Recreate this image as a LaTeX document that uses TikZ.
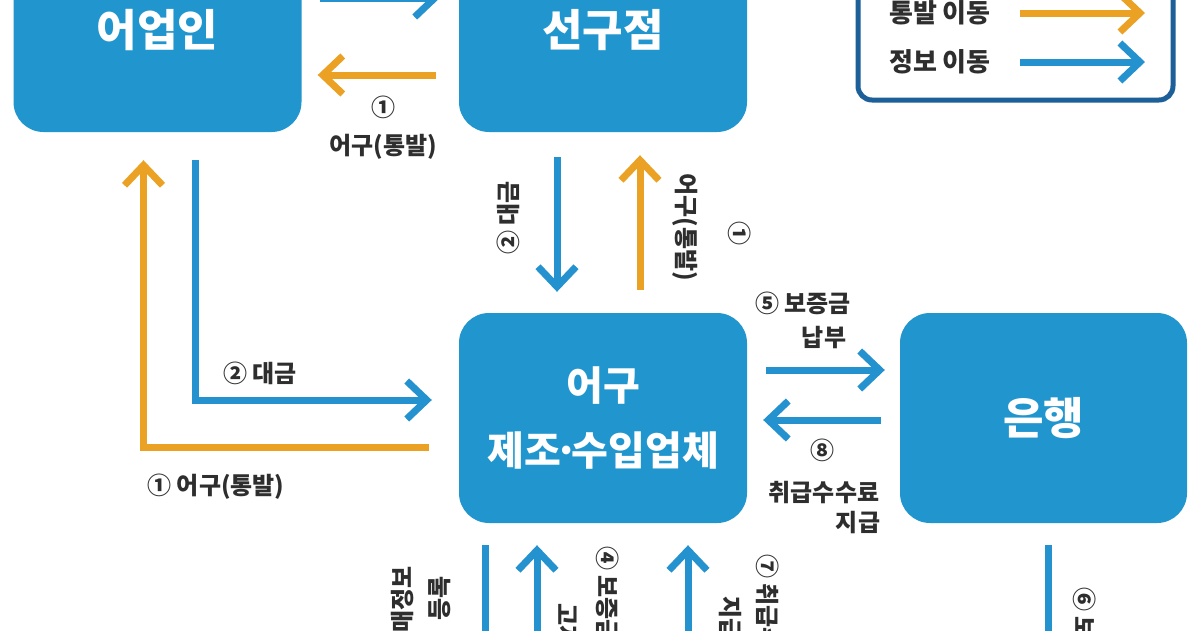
\documentclass[tikz,border=0pt]{standalone}
\usepackage{fontspec}
\setmainfont{Noto Sans CJK KR}
\usetikzlibrary{arrows.meta,calc}
\definecolor{boxblue}{HTML}{2196CE}
\definecolor{infoblue}{HTML}{2592D0}
\definecolor{gearorange}{HTML}{EBA224}
\definecolor{legendblue}{HTML}{1D5F98}
\definecolor{lbltext}{HTML}{2E2E2E}
\tikzset{
  box/.style={fill=boxblue, rounded corners=30pt, text=white,
    font=\bfseries\fontsize{44}{50}\selectfont, align=center, inner sep=0pt,
    minimum width=288pt, minimum height=204pt},
  info/.style={draw=infoblue, line width=7pt, -{Straight Barb[length=20pt,width=38pt]}},
  infoline/.style={draw=infoblue, line width=7pt},
  gear/.style={draw=gearorange, line width=7pt, -{Straight Barb[length=20pt,width=38pt]}},
  lbl/.style={text=lbltext, font=\bfseries\fontsize{24}{38}\selectfont, align=center, inner sep=1pt},
  legtext/.style={text=lbltext, font=\bfseries\fontsize{26}{30}\selectfont, inner sep=1pt},
}
\begin{document}
\begin{tikzpicture}[x=1pt,y=-1pt]
\useasboundingbox (0,0) rectangle (1200,630);
\clip (0,0) rectangle (1200,630);
\fill[white] (0,0) rectangle (1200,630);

% main boxes
\node[box] (fisher) at (157.5,30) {어업인};
\node[box] (shop) at (603,30) {선구점};
\node[box, font=\bfseries\fontsize{40}{65}\selectfont, minimum height=210pt] (maker) at (603,418) {어구\\제조\kern-0.17em·\kern-0.17em수입업체};
\node[box, minimum height=210pt, minimum width=287pt] (bank) at (1043.5,418) {은행};

% legend
\node[draw=legendblue, line width=5pt, rounded corners=14pt, fill=white,
      minimum width=315pt, minimum height=140pt] (legend) at (1015.5,30) {};
\node[legtext] (lg1) at (940,13) {통발 이동};
\node[legtext] (lg2) at (940,62) {정보 이동};
\coordinate (lg1a) at (1020,13);
\coordinate (lg1b) at (1145,13);
\coordinate (lg2a) at (1020,62);
\coordinate (lg2b) at (1145,62);
\draw[gear] (lg1a) -- (lg1b);
\draw[info] (lg2a) -- (lg2b);

% fisher <-> shop
\draw[info] ($(fisher.east)+(18,-32)$) -- ($(shop.west)+(-19,-32)$);
\draw[gear] ($(shop.west)+(-23,45)$) -- ($(fisher.east)+(16,45)$);
\node[lbl] (l1) at (383,128) {①\\어구(통발)};

% shop <-> maker
\draw[info] ($(shop.south)+(-46,25)$) -- ($(maker.north)+(-46,-21)$);
\draw[gear] ($(maker.north)+(37,-23)$) -- ($(shop.south)+(37,23)$);
\node[lbl, rotate=90] (l2) at (508,218) {② 대금};
\node[lbl, rotate=-90] (l3) at (685,227) {어구(통발)};
\node[lbl, rotate=-90] (l3n) at (740,233) {①};

% fisher <-> maker
\draw[info] ($(fisher.south)+(38,28)$) |- ($(maker.west)+(-27,-18)$);
\draw[gear] ($(maker.west)+(-30,29)$) -| ($(fisher.south)+(-14,28)$);
\node[lbl] (l4) at (260,373) {② 대금};
\node[lbl] (l5) at (216,487) {① 어구(통발)};

% maker <-> bank
\draw[info] ($(maker.east)+(19,-48)$) -- ($(bank.west)+(-15,-48)$);
\draw[info] ($(bank.west)+(-19,2)$) -- ($(maker.east)+(16,2)$);
\node[lbl] (l6) at (803,303) {⑤ 보증금};
\node[lbl] (l6b) at (824,338) {납부};
\node[lbl] (l7) at (822,450) {⑧};
\node[lbl] (l7b) at (824,493) {취급수수료};
\node[lbl] (l7c) at (858,523) {지급};

% bottom connectors (continue below the frame)
\coordinate (m3) at ($(maker.south)+(-118,160)$);
\coordinate (m4) at ($(maker.south)+(-66,160)$);
\coordinate (m7) at ($(maker.south)+(85,160)$);
\coordinate (b6) at ($(bank.south)+(4.5,160)$);
\draw[infoline] ($(maker.south)+(-118,22)$) -- (m3);
\draw[info] (m4) -- ($(maker.south)+(-66,22)$);
\draw[info] (m7) -- ($(maker.south)+(85,22)$);
\draw[infoline] ($(bank.south)+(4.5,22)$) -- (b6);

\node[lbl, rotate=90, anchor=east] (l8) at (402,565) {③ 통발 판매정보};
\node[lbl, rotate=90, anchor=east] (l8b) at (440,575) {등록};
\node[lbl, rotate=-90, anchor=west] (l9) at (608,545) {④ 보증금 납부};
\node[lbl, rotate=-90, anchor=west] (l9b) at (567,602) {고지};
\node[lbl, rotate=-90, anchor=west] (l10) at (768,553) {⑦ 취급수수료};
\node[lbl, rotate=-90, anchor=west] (l10b) at (730,595) {지급};
\node[lbl, rotate=-90, anchor=west] (l11) at (1085,586) {⑥ 보증금 이체};
\end{tikzpicture}
\end{document}
